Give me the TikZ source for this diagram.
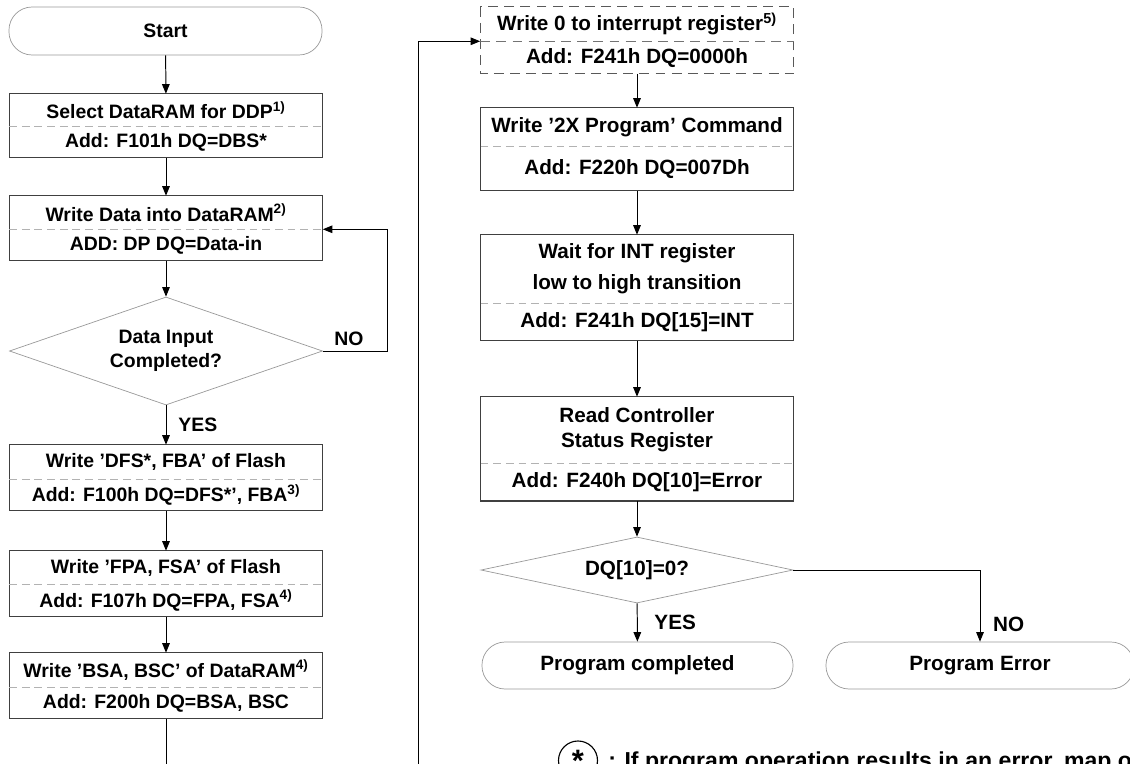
\documentclass[tikz,border=0pt]{standalone}
\usepackage{fontspec}
\setmainfont{Liberation Sans}
\usetikzlibrary{arrows.meta,positioning,shapes.geometric}

\begin{document}
\begin{tikzpicture}[x=0.025cm, y=-0.025cm, font=\bfseries\fontsize{13.8}{17}\selectfont,
  procpart/.style={minimum width=7.825cm, inner sep=0pt, align=center},
  bigtext/.style={font=\bfseries\fontsize{14.7}{18}\selectfont},
  boxframe/.style={draw=black!75, line width=0.9pt},
  divline/.style={draw=black!30, line width=0.5pt, dash pattern=on 5.5pt off 3.5pt},
  terminal/.style={draw=black!40, line width=0.5pt, rounded corners=0.58cm, minimum height=1.2cm, inner sep=0pt},
  decision/.style={diamond, draw=black!40, line width=0.5pt, inner sep=0pt, align=center},
  arr/.style={-{Triangle[length=2.4mm, width=1.9mm]}, line width=0.7pt}]
\useasboundingbox (0,0) rectangle (1130,763);
\clip (0,0) rectangle (1130,763);

% left column
\node[terminal, minimum width=7.825cm] (start) at (165.5,31) {Start};
\node[procpart, minimum height=0.8cm] (selT) at (166,110) {Select DataRAM for DDP\textsuperscript{1)}};
\node[procpart, minimum height=0.775cm, below=0pt of selT] (selB) {Add: F101h DQ=DBS*};
\node[procpart, minimum height=0.825cm] (wrT) at (166,212.5) {Write Data into DataRAM\textsuperscript{2)}};
\node[procpart, minimum height=0.775cm, below=0pt of wrT] (wrB) {ADD: DP DQ=Data-in};
\node[decision, minimum width=7.825cm, minimum height=2.7cm, aspect=2.9] (inpq) at (166,351) {Data Input\\Completed?};
\node[procpart, minimum height=0.85cm] (dfsT) at (166,462) {Write ’DFS*, FBA’ of Flash};
\node[procpart, minimum height=0.775cm, below=0pt of dfsT] (dfsB) {Add: F100h DQ=DFS*’, FBA\textsuperscript{3)}};
\node[procpart, minimum height=0.825cm] (fpaT) at (166,567.5) {Write ’FPA, FSA’ of Flash};
\node[procpart, minimum height=0.8cm, below=0pt of fpaT] (fpaB) {Add: F107h DQ=FPA, FSA\textsuperscript{4)}};
\node[procpart, minimum height=0.85cm] (bsaT) at (166,670) {Write ’BSA, BSC’ of DataRAM\textsuperscript{4)}};
\node[procpart, minimum height=0.775cm, below=0pt of bsaT] (bsaB) {Add: F200h DQ=BSA, BSC};

% right column
\node[procpart, bigtext, minimum height=0.85cm] (intT) at (637,24) {Write 0 to interrupt register\textsuperscript{5)}};
\node[procpart, bigtext, minimum height=0.8cm, below=0pt of intT] (intB) {Add: F241h DQ=0000h};
\node[procpart, bigtext, minimum width=7.8cm, minimum height=0.95cm] (cmdT) at (637,127) {Write ’2X Program’ Command};
\node[procpart, bigtext, minimum width=7.8cm, minimum height=1.1cm, below=0pt of cmdT] (cmdB) {Add: F220h DQ=007Dh};
\node[procpart, bigtext, minimum width=7.8cm, minimum height=1.7cm] (waitT) at (637,269) {Wait for INT register\\[4pt]low to high transition};
\node[procpart, bigtext, minimum width=7.8cm, minimum height=0.925cm, below=0pt of waitT] (waitB) {Add: F241h DQ[15]=INT};
\node[procpart, bigtext, minimum width=7.8cm, minimum height=1.65cm] (rdT) at (637,430) {Read Controller\\Status Register};
\node[procpart, bigtext, minimum width=7.8cm, minimum height=0.925cm, below=0pt of rdT] (rdB) {Add: F240h DQ[10]=Error};
\node[decision, bigtext, minimum width=7.8cm, minimum height=1.65cm, aspect=4.7] (errq) at (637,570) {DQ[10]=0?};
\node[terminal, bigtext, minimum width=7.775cm, minimum height=1.175cm] (done) at (637.5,665.5) {Program completed};
\node[terminal, bigtext, minimum width=7.7cm, minimum height=1.175cm] (fail) at (980,665.5) {Program Error};

% frames and split lines
\foreach \nm in {sel,wr,dfs,fpa,bsa,cmd,wait,rd}{
  \draw[boxframe] (\nm T.north west) rectangle (\nm B.south east);
  \draw[divline] (\nm T.south west) -- (\nm T.south east);
}
\draw[draw=black!65, line width=0.8pt, dash pattern=on 7pt off 4.5pt] (intT.north west) rectangle (intB.south east);
\draw[draw=black!55, line width=0.6pt, dash pattern=on 7pt off 4.5pt] (intT.south west) -- (intT.south east);

% connectors
\draw[arr] (start) -- (selT);
\draw[arr] (selB) -- (wrT);
\draw[arr] (wrB) -- (inpq);
\draw[arr] (inpq) -- node[right=0.18cm]{YES} (dfsT);
\draw[arr] (inpq.east) -- node[above, pos=0.4]{NO} ++(65,0) |- (wrT.south east);
\draw[arr] (dfsB) -- (fpaT);
\draw[arr] (fpaB) -- (bsaT);
\coordinate (dropL) at (166,800);
\coordinate (dropR) at (418,800);
\draw[arr] (bsaB) -- (dropL) -- (dropR) |- (intT.south west);
\draw[arr] (intB) -- (cmdT);
\draw[arr] (cmdB) -- (waitT);
\draw[arr] (waitB) -- (rdT);
\draw[arr] (rdB) -- (errq);
\draw[arr] (errq) -- node[right=0.3cm, bigtext]{YES} (done);
\draw[arr] (errq.east) -| node[pos=0.88, right=0.2cm, bigtext]{NO} (fail.north);

% note
\node[circle, draw, line width=0.8pt, minimum size=0.975cm, inner sep=0pt, font=\bfseries\fontsize{22}{22}\selectfont] (notemark) at (578,760.5) {\raisebox{-0.3em}{*}};
\node[anchor=base west, inner sep=0pt, font=\bfseries\fontsize{16.4}{20}\selectfont] (notetext) at (608,768.5) {: If program operation results in an error, map o};
\end{tikzpicture}
\end{document}
